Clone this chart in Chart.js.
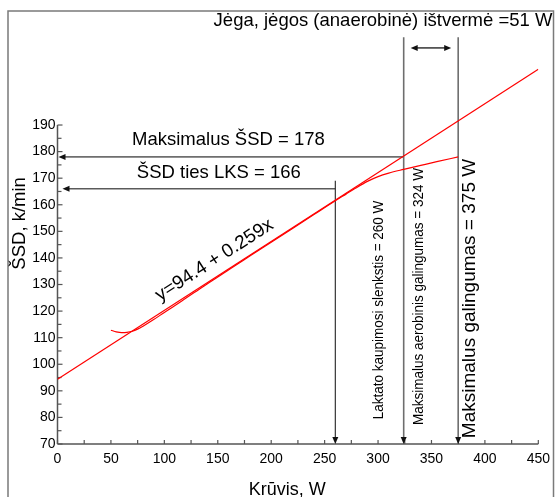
<!DOCTYPE html>
<html lang="lt">
<head>
<meta charset="utf-8">
<title>ŠSD ir krūvis</title>
<script src="https://cdn.jsdelivr.net/npm/chart.js@4.4.0/dist/chart.umd.min.js"></script>
<style>
  html, body { margin: 0; padding: 0; background: #fff; }
  #wrap { width: 557px; height: 497px; }
</style>
</head>
<body>
<div id="wrap"><canvas id="hrChart" width="557" height="497"></canvas></div>
<script>
// išmatuotas ŠSD pagal krūvį
const loadW = [50, 55, 60, 65, 70, 75, 80, 90, 100, 110, 120, 130, 140, 150, 160, 180, 200, 220, 240, 260, 270, 278, 290, 300, 310, 324, 340, 355, 375];
const hrMeasured = [112.8, 112.2, 111.9, 112.0, 112.4, 113.2, 114.3, 116.8, 119.5, 122.1, 124.8, 127.5, 130.2, 132.8, 135.5, 140.7, 145.9, 151.1, 156.3, 161.5, 164.0, 166.0, 168.8, 170.6, 171.9, 173.3, 174.8, 176.2, 178.0];

// regresijos tiesė y = 94.4 + 0.259x
const regLoad = [0, 450];
const regHr = [94.4, 210.95];

// slenksčiai
const hrMax = 178;
const hrLks = 166;
const loadLks = 260;
const loadAerobic = 324;
const loadMax = 375;

const FONT = '"Liberation Sans", Arial, Helvetica, sans-serif';
Chart.defaults.font.family = FONT;

function arrowHead(ctx, x, y, dir) {
  ctx.save();
  ctx.translate(x, y);
  ctx.rotate(dir);
  ctx.beginPath();
  ctx.moveTo(0, 0);
  ctx.lineTo(-7, -3);
  ctx.lineTo(-7, 3);
  ctx.closePath();
  ctx.fill();
  ctx.restore();
}

function line(ctx, x1, y1, x2, y2) {
  ctx.beginPath();
  ctx.moveTo(x1, y1);
  ctx.lineTo(x2, y2);
  ctx.stroke();
}

function text(ctx, str, x, y, size, angle, squeeze) {
  ctx.save();
  ctx.translate(x, y);
  ctx.rotate(angle || 0);
  ctx.scale(squeeze || 1, 1);
  ctx.font = size + 'px ' + FONT;
  ctx.fillStyle = '#000';
  ctx.textAlign = 'center';
  ctx.textBaseline = 'middle';
  ctx.fillText(str, 0, 0);
  ctx.restore();
}

const annotations = {
  id: 'annotations',
  beforeDatasetsDraw(chart) {
    const { ctx, scales: { x, y } } = chart;
    const X = v => x.getPixelForValue(v);
    const Y = v => y.getPixelForValue(v);
    ctx.save();

    // rėmelis
    ctx.strokeStyle = '#7a7a7a';
    ctx.lineWidth = 1.5;
    ctx.strokeRect(8, 11, 545.5, 500);

    // ašys ir padalos
    ctx.strokeStyle = '#555';
    ctx.lineWidth = 1.5;
    line(ctx, X(0), Y(70), X(0), Y(190));
    line(ctx, X(0), Y(70), X(450), Y(70));
    ctx.lineWidth = 1.2;
    for (let v = 70; v <= 190; v += 5) {
      line(ctx, X(0), Y(v), X(0) + (v % 10 === 0 ? 5 : 4), Y(v));
    }
    for (let v = 0; v <= 450; v += 25) {
      line(ctx, X(v), Y(70), X(v), Y(70) - 4);
    }

    // horizontalios rodyklės į ŠSD ašį
    ctx.strokeStyle = '#6e6e6e';
    ctx.fillStyle = '#111';
    ctx.lineWidth = 1.6;
    line(ctx, X(loadAerobic), Y(hrMax), X(0) + 7, Y(hrMax));
    arrowHead(ctx, X(0) + 1, Y(hrMax), Math.PI);
    ctx.strokeStyle = '#5a5a5a';
    line(ctx, X(loadLks), Y(hrLks), X(0) + 11, Y(hrLks));
    arrowHead(ctx, X(0) + 5, Y(hrLks), Math.PI);

    // vertikalios rodyklės į krūvio ašį
    ctx.strokeStyle = '#6e6e6e';
    ctx.lineWidth = 1.6;
    line(ctx, X(loadAerobic), Y(223), X(loadAerobic), Y(70) - 6);
    arrowHead(ctx, X(loadAerobic), Y(70), Math.PI / 2);
    line(ctx, X(loadMax), Y(223), X(loadMax), Y(70) - 6);
    arrowHead(ctx, X(loadMax), Y(70), Math.PI / 2);
    ctx.strokeStyle = '#222';
    ctx.lineWidth = 1.1;
    line(ctx, X(loadLks), Y(hrLks + 3), X(loadLks), Y(70) - 6);
    arrowHead(ctx, X(loadLks), Y(70), Math.PI / 2);

    // anaerobinės ištvermės intervalas
    ctx.strokeStyle = '#000';
    ctx.lineWidth = 1.2;
    const ay = Y(219);
    line(ctx, X(loadAerobic) + 12, ay, X(loadMax) - 12, ay);
    arrowHead(ctx, X(loadAerobic) + 7, ay, Math.PI);
    arrowHead(ctx, X(loadMax) - 7, ay, 0);

    ctx.restore();
  },
  afterDraw(chart) {
    const { ctx, scales: { x, y } } = chart;
    const X = v => x.getPixelForValue(v);
    const Y = v => y.getPixelForValue(v);

    // ašių pavadinimai
    text(ctx, 'ŠSD, k/min', 20, Y(153), 18.5, -Math.PI / 2);
    text(ctx, 'Krūvis, W', X(215), 490, 18);

    text(ctx, 'Jėga, jėgos (anaerobinė) ištvermė =51 W', 383, 21, 18.5);
    text(ctx, 'Maksimalus ŠSD = ' + hrMax, X(160), Y(hrMax) - 17, 18.5);
    text(ctx, 'ŠSD ties LKS = ' + hrLks, X(151), Y(hrLks) - 16, 18.5);

    // lygties užrašas palei regresijos tiesę
    const x1 = X(regLoad[0]), y1 = Y(regHr[0]);
    const x2 = X(regLoad[1]), y2 = Y(regHr[1]);
    const ang = Math.atan2(y2 - y1, x2 - x1);
    const t = 154.5 / (regLoad[1] - regLoad[0]);
    const px = x1 + (x2 - x1) * t, py = y1 + (y2 - y1) * t;
    text(ctx, 'y=94.4 + 0.259x', px + Math.sin(ang) * 15, py - Math.cos(ang) * 15, 19, ang);

    text(ctx, 'Laktato kaupimosi slenkstis = ' + loadLks + ' W', X(301), 310, 15, -Math.PI / 2, 0.9);
    text(ctx, 'Maksimalus aerobinis galingumas = ' + loadAerobic + ' W', X(338), 296.5, 15, -Math.PI / 2, 0.9);
    text(ctx, 'Maksimalus galingumas = ' + loadMax + ' W', X(386), 298.5, 19, -Math.PI / 2);
  }
};

new Chart(document.getElementById('hrChart'), {
  type: 'line',
  data: {
    datasets: [
      {
        data: regLoad.map((v, i) => ({ x: v, y: regHr[i] })),
        borderColor: '#ff0000',
        borderWidth: 1.2,
        pointRadius: 0,
        tension: 0
      },
      {
        data: loadW.map((v, i) => ({ x: v, y: hrMeasured[i] })),
        borderColor: '#ff0000',
        borderWidth: 1.2,
        pointRadius: 0,
        cubicInterpolationMode: 'monotone'
      }
    ]
  },
  options: {
    responsive: false,
    animation: false,
    devicePixelRatio: 1,
    layout: { padding: { left: 8, right: 14.7, top: 37.3, bottom: 0 } },
    plugins: { legend: { display: false }, tooltip: { enabled: false } },
    scales: {
      x: {
        type: 'linear',
        min: 0,
        max: 450,
        grid: { display: false, drawTicks: false },
        border: { display: false },
        ticks: { stepSize: 50, autoSkip: false, maxRotation: 0, padding: 7, color: '#000', font: { size: 14 } },
        afterFit: s => { s.height = 53; }
      },
      y: {
        min: 70,
        max: 223,
        grid: { display: false, drawTicks: false },
        border: { display: false },
        ticks: {
          stepSize: 10,
          includeBounds: false,
          padding: 2,
          color: '#000',
          font: { size: 14 },
          callback: v => (v <= 190 ? v : '')
        },
        afterFit: s => { s.width = 49.5; }
      }
    }
  },
  plugins: [annotations]
});
</script>
</body>
</html>
